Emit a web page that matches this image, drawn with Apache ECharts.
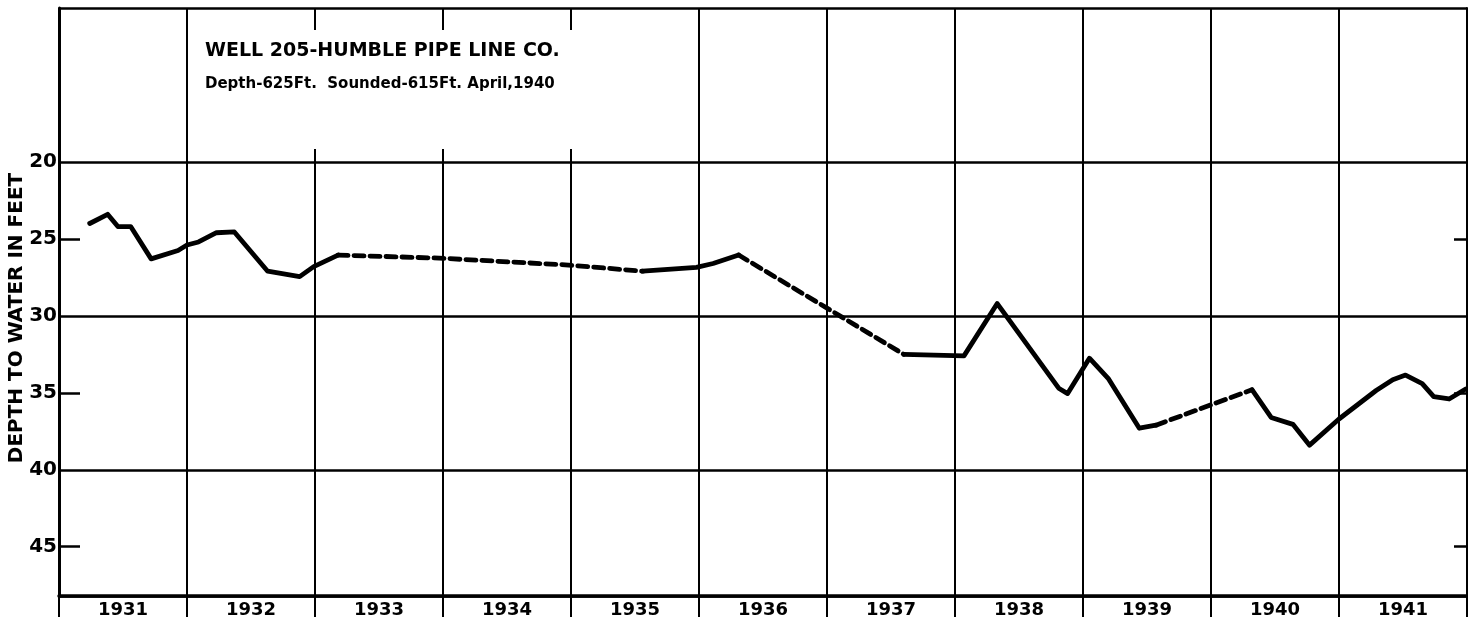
<!DOCTYPE html>
<html>
<head>
<meta charset="utf-8">
<title>Well 205 - Humble Pipe Line Co.</title>
<script src="https://cdn.jsdelivr.net/npm/echarts@6/dist/echarts.min.js"></script>
<style>
  html, body { margin: 0; padding: 0; background: #fff; }
  #chart { width: 1468px; height: 617px; }
</style>
</head>
<body>
<div id="chart"></div>
<script>
// 年份标签（每栏一年）
var years = ['1931', '1932', '1933', '1934', '1935', '1936', '1937', '1938', '1939', '1940', '1941'];
var yLabels = [20, 25, 30, 35, 40, 45];
var yMinorTicks = [25, 35, 45];

// 水位（英尺），[年份, 深度]；实线为测量，虚线为推测
var solid1 = [[1931.24, 24.0], [1931.38, 23.4], [1931.46, 24.2], [1931.56, 24.2], [1931.72, 26.3],
  [1931.93, 25.75], [1932.0, 25.4], [1932.09, 25.2], [1932.23, 24.6], [1932.37, 24.55],
  [1932.63, 27.1], [1932.88, 27.45], [1932.99, 26.8], [1933.18, 26.05]];
var dashed1 = [[1933.18, 26.05], [1933.97, 26.25], [1934.98, 26.7], [1935.56, 27.1]];
var solid2 = [[1935.56, 27.1], [1935.98, 26.85], [1936.11, 26.6], [1936.31, 26.05]];
var dashed2 = [[1936.31, 26.05], [1937.6, 32.5]];
var solid3 = [[1937.6, 32.5], [1938.07, 32.6], [1938.33, 29.2], [1938.81, 34.7], [1938.88, 35.05],
  [1939.05, 32.75], [1939.2, 34.1], [1939.44, 37.3], [1939.57, 37.1]];
var dashed3 = [[1939.57, 37.1], [1940.32, 34.8]];
var solid4 = [[1940.32, 34.8], [1940.47, 36.6], [1940.64, 37.05], [1940.77, 38.4], [1941.0, 36.7],
  [1941.29, 34.85], [1941.42, 34.15], [1941.52, 33.85], [1941.65, 34.4], [1941.74, 35.25],
  [1941.86, 35.4], [1941.99, 34.75]];

var font = '"DejaVu Sans", sans-serif';

function seg(data, dashed) {
  return {
    type: 'line',
    data: data,
    symbol: 'none',
    silent: true,
    lineStyle: {
      color: '#000',
      width: 4.8,
      type: dashed ? [10, 6] : 'solid',
      cap: 'round',
      join: 'round'
    },
    z: 5
  };
}

var myChart = echarts.init(document.getElementById('chart'));
myChart.setOption({
  animation: false,
  backgroundColor: '#fff',
  title: {
    text: 'WELL 205-HUMBLE PIPE LINE CO.',
    subtext: 'Depth-625Ft.  Sounded-615Ft. April,1940',
    left: 190,
    top: 30,
    padding: [12, 40, 57, 15],
    itemGap: 16,
    backgroundColor: '#fff',
    textStyle: { fontFamily: font, fontWeight: 'bold', fontSize: 19, color: '#000' },
    subtextStyle: { fontFamily: font, fontWeight: 'bold', fontSize: 15, color: '#000' }
  },
  // 纵轴标题
  graphic: [{
    type: 'text',
    x: 17,
    y: 318,
    rotation: Math.PI / 2,
    style: {
      text: 'DEPTH TO WATER IN FEET',
      font: 'bold 20px "DejaVu Sans", sans-serif',
      fill: '#000',
      align: 'center',
      verticalAlign: 'middle'
    }
  }],
  grid: { left: 59, top: 8, right: 1, bottom: 21, outerBoundsMode: 'none' },
  xAxis: [
    {
      type: 'value',
      min: 1931,
      max: 1942,
      interval: 1,
      axisLine: { show: true, lineStyle: { color: '#000', width: 3.5 } },
      axisTick: { show: false },
      axisLabel: { show: false },
      splitLine: { show: true, lineStyle: { color: '#000', width: 2 } }
    },
    {
      type: 'category',
      data: years,
      position: 'bottom',
      axisLine: { show: false },
      axisTick: { show: true, length: 22, lineStyle: { color: '#000', width: 2 } },
      axisLabel: { margin: 5, fontFamily: font, fontWeight: 'bold', fontSize: 18, color: '#000' },
      splitLine: { show: false }
    }
  ],
  yAxis: [
    {
      type: 'value',
      inverse: true,
      min: 10,
      max: 48.2,
      interval: 10,
      axisLine: { show: true, lineStyle: { color: '#000', width: 3 } },
      axisTick: { show: false },
      axisLabel: { margin: 2, customValues: yLabels, fontFamily: font, fontWeight: 'bold', fontSize: 20, color: '#000' },
      splitLine: { show: true, lineStyle: { color: '#000', width: 2.5 } }
    },
    {
      // 左侧短刻度
      type: 'value',
      position: 'left',
      inverse: true,
      min: 10,
      max: 48.2,
      axisLine: { show: false },
      axisTick: { show: true, inside: true, length: 21, customValues: yMinorTicks, lineStyle: { color: '#000', width: 2.5 } },
      axisLabel: { show: false },
      splitLine: { show: false }
    },
    {
      // 右侧边框及短刻度
      type: 'value',
      position: 'right',
      inverse: true,
      min: 10,
      max: 48.2,
      axisLine: { show: true, lineStyle: { color: '#000', width: 2 } },
      axisTick: { show: true, inside: true, length: 13, customValues: yMinorTicks, lineStyle: { color: '#000', width: 2.5 } },
      axisLabel: { show: false },
      splitLine: { show: false }
    }
  ],
  series: [
    seg(solid1, false), seg(dashed1, true), seg(solid2, false), seg(dashed2, true),
    seg(solid3, false), seg(dashed3, true), seg(solid4, false)
  ]
});
</script>
</body>
</html>
